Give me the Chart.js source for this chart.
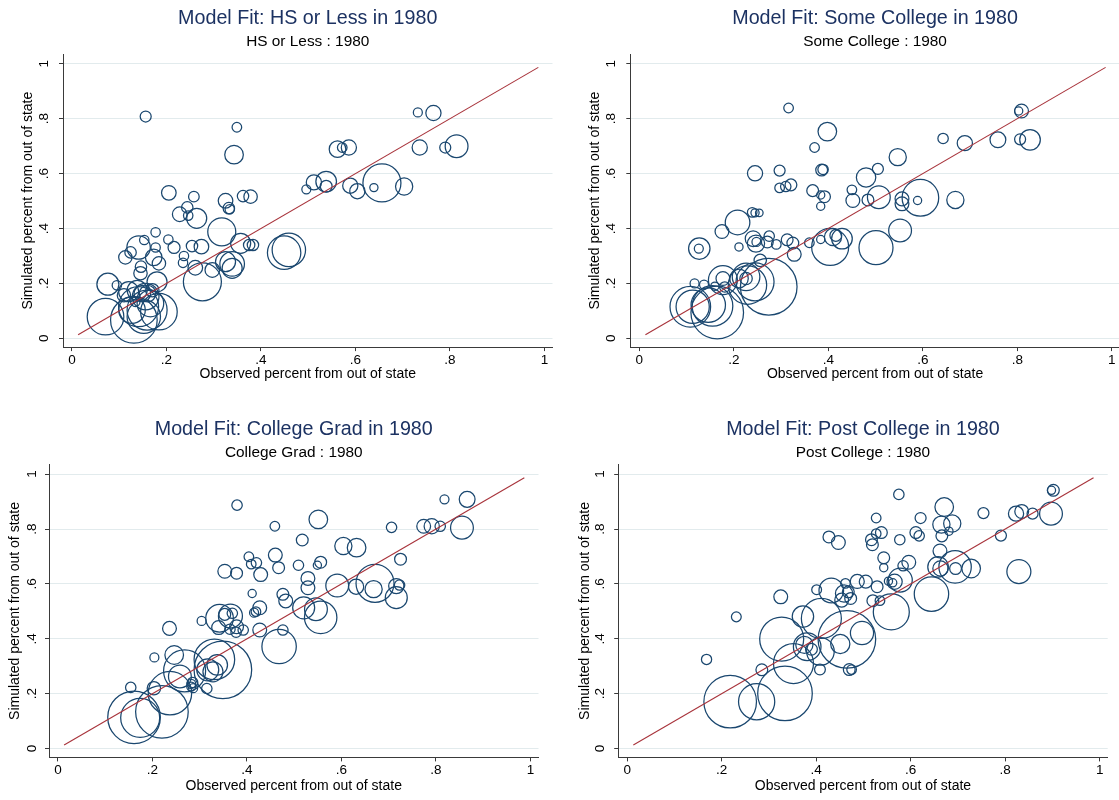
<!DOCTYPE html>
<html>
<head>
<meta charset="utf-8">
<script src="https://cdn.jsdelivr.net/npm/chart.js@4.4.1/dist/chart.umd.min.js"></script>
<style>
  html, body { margin: 0; padding: 0; background: #ffffff; overflow: hidden; width: 1119px; height: 800px; }
  canvas { position: absolute; }
</style>
</head>
<body>
<canvas id="c1" width="560" height="400" style="left:0px;top:0px"></canvas>
<canvas id="c2" width="560" height="400" style="left:560px;top:0px"></canvas>
<canvas id="c3" width="560" height="400" style="left:0px;top:400px"></canvas>
<canvas id="c4" width="560" height="400" style="left:560px;top:400px"></canvas>
<script>
// ---------- shared axis data ----------
const tickValues = [0, 0.2, 0.4, 0.6, 0.8, 1];
const tickLabels = ['0', '.2', '.4', '.6', '.8', '1'];
const refLine = [0.013, 0.987];
const xAxisTitle = 'Observed percent from out of state';
const yAxisTitle = 'Simulated percent from out of state';

// ---------- Panel 1: HS or Less ----------
const hsTitle = 'Model Fit: HS or Less in 1980';
const hsSubtitle = 'HS or Less : 1980';
const hsObserved  = [0.156,0.349,0.343,0.732,0.765,0.736,0.790,0.814,0.562,0.572,0.586,0.496,0.512,0.538,0.538,0.589,0.604,0.639,0.656,0.703,
                     0.205,0.258,0.325,0.332,0.334,0.362,0.378,0.228,0.244,0.246,0.264,0.317,0.177,0.153,0.204,0.216,0.177,0.141,0.124,0.113,
                     0.173,0.184,0.146,0.145,0.237,0.235,0.254,0.274,0.261,0.297,0.276,0.325,0.339,0.339,0.357,0.375,0.383,0.449,0.459,0.076,
                     0.095,0.180,0.120,0.138,0.149,0.134,0.160,0.170,0.110,0.071,0.131,0.159,0.184,0.141,0.166,0.127,0.152,0.156];
const hsSimulated = [0.808,0.769,0.669,0.823,0.821,0.695,0.695,0.700,0.689,0.695,0.695,0.543,0.568,0.571,0.554,0.556,0.536,0.549,0.566,0.553,
                     0.530,0.516,0.501,0.474,0.470,0.518,0.516,0.452,0.477,0.447,0.437,0.388,0.386,0.358,0.360,0.331,0.331,0.331,0.313,0.295,
                     0.295,0.273,0.261,0.237,0.300,0.275,0.336,0.334,0.257,0.249,0.206,0.279,0.271,0.255,0.346,0.340,0.340,0.312,0.322,0.197,
                     0.193,0.206,0.170,0.175,0.163,0.133,0.163,0.175,0.157,0.079,0.067,0.103,0.097,0.115,0.127,0.103,0.079,0.152];
const hsSize      = [5.5,4.8,9.3,4.5,7.6,7.6,5.5,11.4,8.3,4.8,7.6,4.5,7.6,10.3,5.9,7.6,7.6,4.1,19,8.6,
                     7.3,5.3,7.3,5.7,4.7,5.7,6.7,7.3,5.7,4.7,10,14,4.7,4.7,4.7,6,4.7,11.7,5.7,6.7,
                     8.3,6.7,5.7,6.7,4.7,4.7,5.7,7.3,7.3,7.3,19,10,12.3,10,10,5.7,5.7,16.7,16.7,11,
                     4.7,10,10,10,8.3,4.7,8.3,6.7,6.7,18.3,23.3,20,18.3,20,13.3,13.3,16.7,13.3];

// ---------- Panel 2: Some College ----------
const scTitle = 'Model Fit: Some College in 1980';
const scSubtitle = 'Some College : 1980';
const scObserved  = [0.316,0.809,0.803,0.398,0.643,0.689,0.759,0.806,0.827,0.371,0.547,0.245,0.297,0.386,0.389,0.480,0.505,0.297,0.310,0.321,
                     0.367,0.384,0.392,0.384,0.450,0.452,0.484,0.507,0.556,0.556,0.589,0.595,0.669,0.239,0.245,0.254,0.208,0.175,0.127,0.126,
                     0.211,0.241,0.247,0.248,0.275,0.271,0.290,0.313,0.325,0.328,0.360,0.384,0.404,0.410,0.416,0.429,0.501,0.552,0.256,0.117,
                     0.137,0.160,0.177,0.177,0.181,0.211,0.226,0.229,0.245,0.226,0.274,0.113,0.108,0.155,0.165,0.146];
const scSimulated = [0.839,0.828,0.828,0.753,0.728,0.711,0.723,0.725,0.723,0.695,0.660,0.601,0.611,0.613,0.615,0.586,0.617,0.548,0.553,0.559,
                     0.538,0.522,0.516,0.481,0.541,0.502,0.504,0.514,0.508,0.490,0.502,0.512,0.504,0.459,0.457,0.457,0.422,0.389,0.327,0.327,
                     0.333,0.363,0.345,0.351,0.372,0.351,0.342,0.359,0.347,0.306,0.348,0.360,0.333,0.369,0.375,0.363,0.330,0.393,0.284,0.200,
                     0.196,0.190,0.212,0.218,0.187,0.218,0.224,0.194,0.206,0.218,0.188,0.115,0.115,0.118,0.094,0.121];
const scSize      = [4.8,6.9,4.1,9.3,5.2,7.6,7.9,5.5,10.3,4.8,8.6,7.6,5.5,5.9,5.2,9.7,5.5,4.8,5.2,5.9,
                     5.9,4.1,5.9,4.1,4.8,6.9,5.9,11.4,6.9,6.9,4.1,18.3,8.6,4.8,4.1,3.8,12.3,6.9,10.7,4.5,
                     4.1,7.9,8.6,4.5,5.2,5.9,4.8,5.9,5.9,6.9,4.8,4.1,18.5,8.6,5.9,10.3,17,11.4,6.2,4.5,
                     4.5,4.1,14.5,6.9,5.2,9.3,13.8,19.2,19,6.2,28.3,16.6,20.3,20.3,26.3,17.2];

// ---------- Panel 3: College Grad ----------
const cgTitle = 'Model Fit: College Grad in 1980';
const cgSubtitle = 'College Grad : 1980';
const cgObserved  = [0.379,0.551,0.459,0.706,0.818,0.866,0.774,0.791,0.809,0.855,0.517,0.604,0.632,0.725,0.404,0.409,0.420,0.460,0.467,0.429,
                     0.353,0.378,0.509,0.549,0.556,0.529,0.529,0.591,0.631,0.668,0.671,0.716,0.716,0.723,0.411,0.476,0.482,0.427,0.419,0.415,
                     0.520,0.546,0.556,0.304,0.342,0.365,0.353,0.369,0.340,0.364,0.378,0.377,0.392,0.427,0.476,0.236,0.468,0.204,0.246,0.268,
                     0.331,0.349,0.337,0.317,0.258,0.285,0.286,0.315,0.154,0.203,0.220,0.161,0.174,0.237,0.282,0.282,0.328];
const cgSimulated = [0.887,0.835,0.810,0.806,0.908,0.908,0.810,0.810,0.810,0.805,0.760,0.738,0.732,0.690,0.699,0.672,0.677,0.705,0.659,0.634,
                     0.646,0.639,0.668,0.668,0.679,0.620,0.586,0.594,0.590,0.581,0.602,0.550,0.592,0.596,0.565,0.562,0.538,0.513,0.499,0.495,
                     0.513,0.508,0.478,0.465,0.475,0.483,0.489,0.493,0.441,0.435,0.444,0.424,0.432,0.432,0.432,0.438,0.372,0.332,0.341,0.283,
                     0.325,0.287,0.305,0.287,0.263,0.241,0.220,0.219,0.223,0.220,0.134,0.114,0.112,0.202,0.226,0.236,0.280];
const cgSize      = [5.2,9.3,4.8,5.2,4.5,7.9,6.9,7.6,5.2,11.4,5.9,8.6,9.3,5.9,4.8,4.8,5.2,6.9,5.9,6.9,
                     6.9,5.9,5.2,4.1,5.9,6.9,6.9,11.4,7.6,8.6,19,11,7.6,5.2,4.1,5.9,6.9,6.9,4.8,4.5,
                     11,11.4,16.2,4.5,13.8,12,5.9,5.2,6.9,5.2,6.9,5.2,5.2,6.9,5.2,6.9,17.2,4.5,9.3,21,
                     20.3,28.8,10.3,11,11.4,5.2,4.5,5.2,5.2,6.7,26.3,26.3,19.5,21.7,4.5,4.5,10];

// ---------- Panel 4: Post College ----------
const pcTitle = 'Model Fit: Post College in 1980';
const pcSubtitle = 'Post College : 1980';
const pcObserved  = [0.575,0.902,0.898,0.671,0.527,0.621,0.754,0.823,0.835,0.858,0.897,0.665,0.688,0.681,0.666,0.611,0.618,0.538,0.527,0.517,
                     0.519,0.577,0.427,0.447,0.791,0.543,0.543,0.662,0.596,0.584,0.658,0.663,0.694,0.695,0.728,0.829,0.578,0.566,0.553,0.562,
                     0.505,0.487,0.529,0.520,0.535,0.401,0.432,0.462,0.459,0.468,0.454,0.473,0.325,0.231,0.372,0.411,0.559,0.644,0.327,0.465,
                     0.497,0.451,0.381,0.390,0.375,0.409,0.352,0.334,0.274,0.218,0.285,0.408,0.470,0.475,0.168];
const pcSimulated = [0.926,0.941,0.941,0.880,0.840,0.840,0.858,0.856,0.864,0.856,0.856,0.816,0.820,0.792,0.775,0.787,0.775,0.787,0.783,0.761,
                     0.743,0.761,0.771,0.751,0.776,0.695,0.659,0.720,0.679,0.666,0.662,0.656,0.662,0.656,0.656,0.645,0.614,0.608,0.610,0.604,
                     0.608,0.609,0.590,0.539,0.539,0.579,0.576,0.602,0.565,0.571,0.541,0.547,0.553,0.480,0.481,0.474,0.498,0.563,0.399,0.398,
                     0.421,0.381,0.371,0.362,0.378,0.354,0.310,0.201,0.171,0.171,0.287,0.288,0.288,0.288,0.325];
const pcSize      = [5.2,5.9,4.1,9.3,4.8,5.5,5.5,7.6,6.9,5.5,11.4,8.6,8.6,4.1,5.9,5.9,5.2,5.9,4.8,5.9,
                     5.9,5.2,5.9,6.9,5.5,5.9,4.1,6.9,6.9,5.2,10.3,7.6,16.2,5.9,9.3,12,12,7.6,4.1,4.1,
                     6.5,7,5.9,5.9,4.8,4.9,12.3,4.8,8.6,5.9,6.9,5.9,6.9,4.9,10.7,20,18,17.2,22,28.8,
                     11.6,9.6,13.8,5.9,8.6,13.8,20,27.3,18.1,26.3,5.9,5.4,5.9,4.8,5.1];

// ---------- styling ----------
const FONT = "'Liberation Sans', Arial, Helvetica, sans-serif";
const NAVY = '#1a476f';
const LINE_RED = '#a8333b';
const TITLE_COLOR = '#1c3262';
const GRID_COLOR = '#e2ebed';
const AXIS_COLOR = '#3a3a3a';
const X_MIN = -0.019, X_MAX = 1.017;
const Y_MIN = -0.032, Y_MAX = 1.035;

function makeChart(id, titleText, subtitleText, obs, sim, size, L) {
  const bubbles = obs.map((x, i) => ({ x: x, y: sim[i], r: size[i] }));
  const diag = refLine.map(v => ({ x: v, y: v }));
  const tickFont = { family: FONT, size: 13.5 };
  const axisTitleFont = { family: FONT, size: 14, lineHeight: 1.2 };
  new Chart(document.getElementById(id), {
    type: 'bubble',
    data: {
      datasets: [
        { type: 'line', data: diag, borderColor: LINE_RED, borderWidth: 1.1, pointRadius: 0,
          fill: false, tension: 0, order: 0, clip: false },
        { type: 'bubble', data: bubbles, borderColor: NAVY, backgroundColor: 'rgba(0,0,0,0)',
          borderWidth: 1.25, order: 1, clip: false }
      ]
    },
    options: {
      responsive: false,
      animation: false,
      devicePixelRatio: 1,
      events: [],
      layout: { autoPadding: false, padding: { left: 0, right: L.padRight, top: 0, bottom: 0 } },
      plugins: {
        legend: { display: false },
        tooltip: { enabled: false },
        title: { display: true, text: titleText, color: TITLE_COLOR, fullSize: false,
                 font: { family: FONT, size: 19.7, weight: 'normal', lineHeight: 1 },
                 padding: { top: L.titleTop, bottom: 0 } },
        subtitle: { display: true, text: subtitleText, color: '#000000', fullSize: false,
                    font: { family: FONT, size: 15.4, weight: 'normal', lineHeight: 1 },
                    padding: { top: L.subTop, bottom: L.subBottom } }
      },
      scales: {
        x: {
          type: 'linear', bounds: 'data', min: X_MIN, max: X_MAX,
          afterBuildTicks: s => { s.ticks = tickValues.map(v => ({ value: v })); },
          afterFit: s => { s.height = L.xAxisHeight; },
          ticks: { font: tickFont, color: '#000000', padding: L.xTickPad, maxRotation: 0, autoSkip: false,
                   callback: (v, i) => tickLabels[i] },
          grid: { drawOnChartArea: false, drawTicks: true, tickLength: 4, tickColor: AXIS_COLOR, tickWidth: 1 },
          border: { display: true, color: AXIS_COLOR, width: 1 },
          title: { display: true, text: xAxisTitle, color: '#000000', font: axisTitleFont,
                   padding: { top: 0, bottom: L.xTitleBottom } }
        },
        y: {
          type: 'linear', bounds: 'data', min: Y_MIN, max: Y_MAX,
          afterBuildTicks: s => { s.ticks = tickValues.map(v => ({ value: v })); },
          afterFit: s => { s.width = L.yAxisWidth; },
          ticks: { font: tickFont, color: '#000000', padding: L.yTickPad, minRotation: 90, maxRotation: 90,
                   crossAlign: 'center', autoSkip: false, callback: (v, i) => tickLabels[i] },
          grid: { color: GRID_COLOR, lineWidth: 1, drawTicks: true, tickLength: 4, tickColor: AXIS_COLOR, tickWidth: 1 },
          border: { display: true, color: AXIS_COLOR, width: 1 },
          title: { display: true, text: yAxisTitle, color: '#000000', font: axisTitleFont,
                   padding: { top: L.yTitleTop, bottom: 0 } }
        }
      }
    }
  });
}

const topRow = { titleTop: 8.45, subTop: 5.85, subBottom: 4.8, xAxisHeight: 52.9, xTitleBottom: 17, xTickPad: 1 };
const bottomRow = { titleTop: 19.35, subTop: 5.75, subBottom: 4.3, xAxisHeight: 42.6, xTitleBottom: 5.6, xTickPad: 1 };

makeChart('c1', hsTitle, hsSubtitle, hsObserved, hsSimulated, hsSize,
  Object.assign({}, topRow, { yAxisWidth: 63, padRight: 7.5, yTitleTop: 20.1, yTickPad: 8.7 }));
makeChart('c2', scTitle, scSubtitle, scObserved, scSimulated, scSize,
  Object.assign({}, topRow, { yAxisWidth: 70.3, padRight: 0.2, yTitleTop: 27.2, yTickPad: 8.9 }));
makeChart('c3', cgTitle, cgSubtitle, cgObserved, cgSimulated, cgSize,
  Object.assign({}, bottomRow, { yAxisWidth: 49, padRight: 21.5, yTitleTop: 6.6, yTickPad: 7.5 }));
makeChart('c4', pcTitle, pcSubtitle, pcObserved, pcSimulated, pcSize,
  Object.assign({}, bottomRow, { yAxisWidth: 58.2, padRight: 12.3, yTitleTop: 16.5, yTickPad: 8.5 }));
</script>
</body>
</html>
